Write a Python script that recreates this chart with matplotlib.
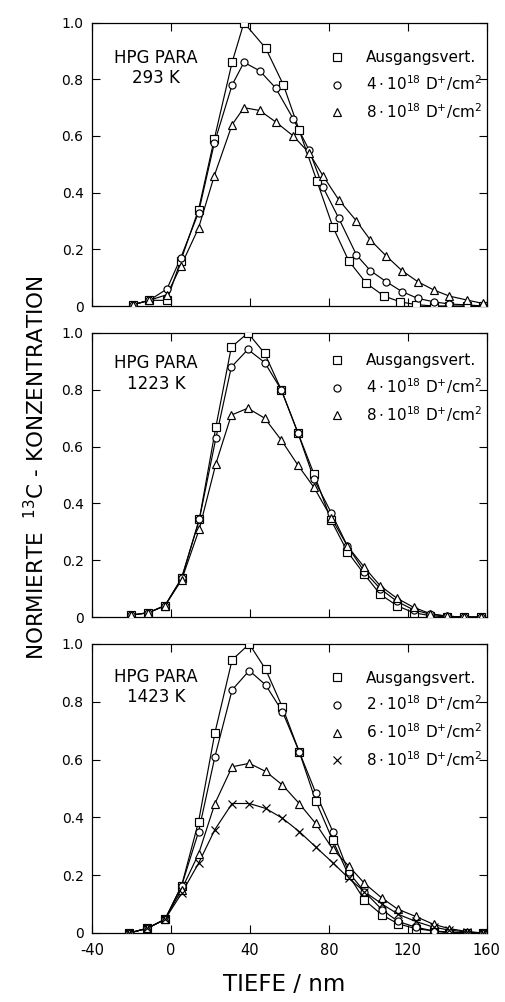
import matplotlib
matplotlib.use("Agg")
import matplotlib.pyplot as plt
from matplotlib.lines import Line2D

# ---------------- data ----------------
# Panel 1: 293 K
p1_sq_x = [-19, -11, -2, 5, 14, 22, 31, 37, 48, 57, 65, 74, 82, 90, 99, 108, 116, 124, 133, 141, 150, 158]
p1_sq_y = [0.005, 0.02, 0.02, 0.16, 0.34, 0.59, 0.86, 1.0, 0.91, 0.78, 0.62, 0.44, 0.28, 0.16, 0.08, 0.035, 0.015, 0.005, 0.0, 0.0, 0.0, 0.0]
p1_ci_x = [-19, -11, -2, 5, 14, 22, 31, 37, 45, 53, 62, 70, 77, 85, 94, 101, 109, 117, 125, 133, 141, 150, 158]
p1_ci_y = [0.005, 0.02, 0.06, 0.17, 0.33, 0.575, 0.78, 0.86, 0.83, 0.77, 0.66, 0.55, 0.42, 0.31, 0.18, 0.125, 0.086, 0.051, 0.027, 0.015, 0.007, 0.004, 0.0]
p1_tr_x = [-19, -11, -2, 5, 14, 22, 31, 37, 45, 53, 62, 70, 77, 85, 94, 101, 109, 117, 125, 133, 141, 150, 158]
p1_tr_y = [0.005, 0.02, 0.04, 0.14, 0.275, 0.46, 0.64, 0.70, 0.69, 0.65, 0.60, 0.54, 0.46, 0.375, 0.30, 0.233, 0.177, 0.125, 0.086, 0.057, 0.035, 0.021, 0.009]

# Panel 2: 1223 K
p2_x = [-20, -11.5, -3, 5.4, 14.4, 22.8, 30.6, 39, 47.5, 55.9, 64.3, 72.5, 81.2, 89.4, 98, 106, 114.5, 123, 131.3, 139.8, 148.5, 156.8]
p2_sq_y = [0.007, 0.015, 0.04, 0.136, 0.344, 0.67, 0.95, 1.0, 0.928, 0.80, 0.649, 0.503, 0.34, 0.23, 0.15, 0.08, 0.04, 0.015, 0.005, 0.0, 0.0, 0.0]
p2_ci_y = [0.007, 0.015, 0.04, 0.136, 0.344, 0.63, 0.88, 0.942, 0.896, 0.80, 0.649, 0.485, 0.367, 0.25, 0.16, 0.10, 0.055, 0.025, 0.01, 0.003, 0.0, 0.0]
p2_tr_y = [0.007, 0.015, 0.04, 0.13, 0.31, 0.54, 0.711, 0.735, 0.70, 0.623, 0.535, 0.456, 0.35, 0.25, 0.175, 0.11, 0.066, 0.034, 0.012, 0.003, 0.0, 0.0]

# Panel 3: 1423 K
p3_x = [-21, -12, -3, 5.4, 14, 22.3, 31, 39.7, 48, 56.5, 65, 73.3, 82, 90, 98, 107, 115, 124, 133, 141, 150, 158]
p3_sq_y = [0.0, 0.016, 0.047, 0.163, 0.385, 0.693, 0.945, 1.0, 0.912, 0.781, 0.627, 0.458, 0.32, 0.2, 0.114, 0.062, 0.032, 0.015, 0.007, 0.0, 0.0, 0.0]
p3_ci_y = [0.0, 0.016, 0.047, 0.163, 0.35, 0.61, 0.841, 0.908, 0.858, 0.766, 0.627, 0.486, 0.351, 0.21, 0.143, 0.08, 0.04, 0.02, 0.007, 0.003, 0.0, 0.0]
p3_tr_y = [0.0, 0.016, 0.047, 0.15, 0.273, 0.448, 0.575, 0.587, 0.559, 0.512, 0.448, 0.379, 0.29, 0.232, 0.172, 0.12, 0.082, 0.057, 0.03, 0.015, 0.005, 0.0]
p3_cr_y = [0.0, 0.016, 0.047, 0.137, 0.241, 0.358, 0.448, 0.448, 0.431, 0.397, 0.351, 0.298, 0.243, 0.19, 0.143, 0.10, 0.065, 0.04, 0.02, 0.01, 0.003, 0.0]

x_ticks = [-40, 0, 40, 80, 120, 160]
x_ticklabels = ["-40", "0", "40", "80", "120", "160"]
y_ticks = [0, 0.2, 0.4, 0.6, 0.8, 1.0]
y_ticklabels = ["0", "0.2", "0.4", "0.6", "0.8", "1.0"]

panel_titles = ["HPG PARA\n293 K", "HPG PARA\n1223 K", "HPG PARA\n1423 K"]
labels_a = ["Ausgangsvert.", r"$4\cdot10^{18}\ \mathrm{D^{+}/cm^{2}}$", r"$8\cdot10^{18}\ \mathrm{D^{+}/cm^{2}}$"]
labels_c = ["Ausgangsvert.", r"$2\cdot10^{18}\ \mathrm{D^{+}/cm^{2}}$",
            r"$6\cdot10^{18}\ \mathrm{D^{+}/cm^{2}}$", r"$8\cdot10^{18}\ \mathrm{D^{+}/cm^{2}}$"]

panels = [
    (panel_titles[0], [(p1_sq_x, p1_sq_y, "s"), (p1_ci_x, p1_ci_y, "o"), (p1_tr_x, p1_tr_y, "^")], labels_a),
    (panel_titles[1], [(p2_x, p2_sq_y, "s"), (p2_x, p2_ci_y, "o"), (p2_x, p2_tr_y, "^")], labels_a),
    (panel_titles[2], [(p3_x, p3_sq_y, "s"), (p3_x, p3_ci_y, "o"), (p3_x, p3_tr_y, "^"), (p3_x, p3_cr_y, "x")], labels_c),
]

plt.rcParams["font.family"] = ["DejaVu Sans"]
plt.rcParams["mathtext.fontset"] = "dejavusans"
plt.rcParams["mathtext.default"] = "regular"

fig = plt.figure(figsize=(5.05, 10.02), dpi=100)

rects = [
    [0.182, 0.6946, 0.782, 0.2828],
    [0.182, 0.3842, 0.782, 0.2835],
    [0.182, 0.0689, 0.782, 0.2884],
]
title_y = [0.84, 0.858, 0.851]
leg_y = [0.902, 0.928, 0.908]

LW = 0.85
MS = 5.1
MEW = 0.85

for i, (rect, (title, series, labels)) in enumerate(zip(rects, panels)):
    ax = fig.add_axes(rect)
    handles = []
    for (xs, ys, m) in series:
        mfc = "white" if m != "x" else "black"
        ms = MS if m != "^" else MS + 0.6
        ax.plot(xs, ys, color="black", lw=LW, zorder=2)
        ax.plot(xs, ys, linestyle="none", marker=m, ms=ms, mfc=mfc, mec="black", mew=MEW, zorder=3)
        handles.append(Line2D([], [], linestyle="none", marker=m, ms=ms, mfc=mfc, mec="black", mew=MEW))
    ax.set_xlim(-40, 160)
    ax.set_ylim(0, 1.0)
    ax.set_xticks(x_ticks)
    ax.set_yticks(y_ticks)
    ax.set_yticklabels(y_ticklabels)
    if i == 2:
        ax.set_xticklabels(x_ticklabels)
    else:
        ax.set_xticklabels([])
    ax.tick_params(direction="in", length=6, width=0.8, top=True, right=True,
                   labelsize=10, pad=6, colors="black")
    ax.tick_params(axis="x", labelsize=10.5, pad=7)
    for sp in ax.spines.values():
        sp.set_linewidth(0.9)
    ax.text(0.162, title_y[i], title, transform=ax.transAxes, ha="center", va="center",
            fontsize=12, linespacing=1.2)
    ax.legend(handles, labels, loc="upper right", bbox_to_anchor=(0.99, leg_y[i]),
              frameon=False, handlelength=0.6, handletextpad=1.6, labelspacing=0.52,
              borderaxespad=0.0, borderpad=0.0, fontsize=11)

fig.text(0.07, 0.533, r"NORMIERTE  $^{13}$C - KONZENTRATION", rotation=90,
         ha="center", va="center", fontsize=15.5)
fig.text(0.562, 0.017, "TIEFE / nm", ha="center", va="center", fontsize=16.5)

fig.savefig("out.png", dpi=100)
